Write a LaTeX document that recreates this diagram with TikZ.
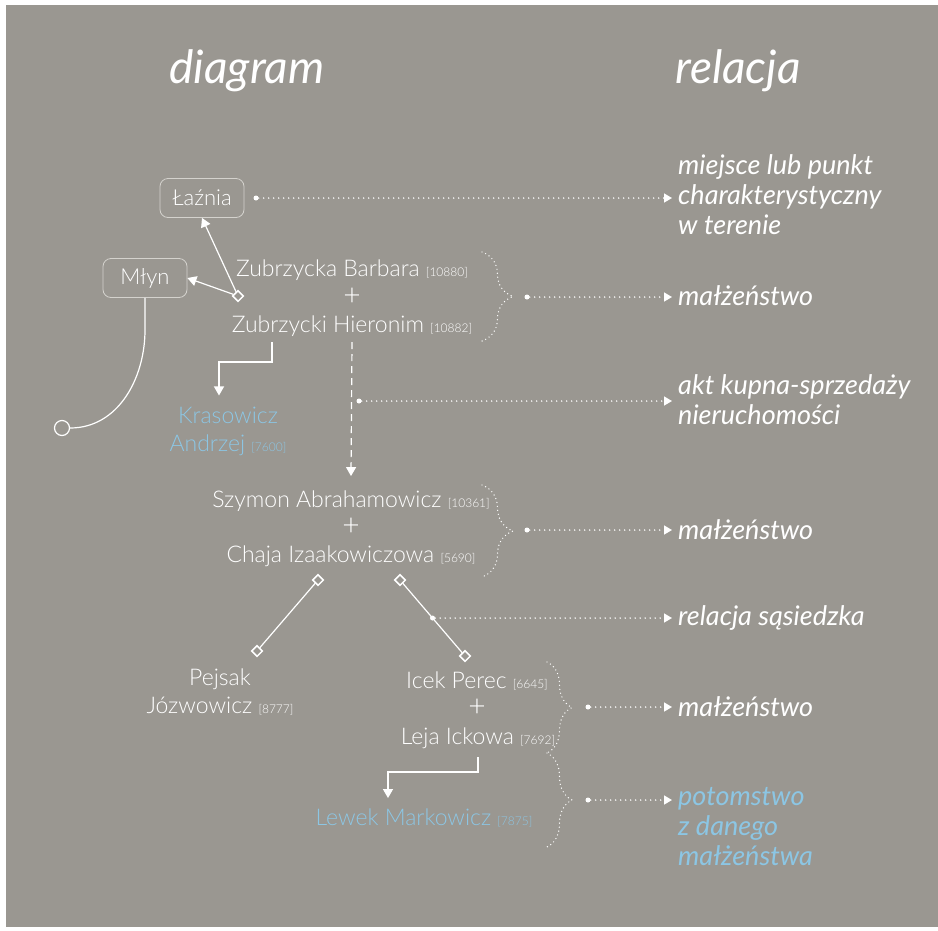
\documentclass[tikz,border=0pt]{standalone}
\usepackage{fontspec}
\setmainfont{Lato}
\IfFontExistsTF{Lato Light}{\newfontfamily\namefont{Lato Light}}{\newfontfamily\namefont{Lato}}
\usetikzlibrary{arrows.meta,decorations.pathreplacing,calc}

\definecolor{paper}{RGB}{154,151,145}
\definecolor{kidblue}{RGB}{140,198,228}
\definecolor{frame}{RGB}{212,210,205}
\newcommand{\idno}[1]{{\fontsize{12}{14}\selectfont[#1]}}

\tikzset{
  person/.style={text=white, font=\namefont\fontsize{23}{28}\selectfont, inner sep=0pt, align=center},
  kid/.style={person, text=kidblue},
  plus/.style={person, font=\namefont\fontsize{30}{30}\selectfont},
  place/.style={draw=frame, line width=0.8pt, rounded corners=8pt, minimum width=84pt, minimum height=39pt,
    text=white, font=\namefont\fontsize{22}{24}\selectfont},
  relation/.style={anchor=west, align=left, text=white, inner xsep=6pt, inner ysep=0pt,
    font=\itshape\fontsize{27}{30}\selectfont},
  heading/.style={text=white, font=\itshape\fontsize{46}{50}\selectfont, anchor=base},
  joint/.style={draw=white, fill=paper, line width=1.5pt, rotate=45, minimum size=7.5pt, inner sep=0pt},
  dot/.style={circle, fill=white, inner sep=0pt, minimum size=5pt},
  tie/.style={white, line width=1.2pt},
  descent/.style={tie, -{Triangle[width=10pt,length=9pt]}},
  hint/.style={white, line width=1.6pt, line cap=round, dash pattern=on 0pt off 5pt,
    -{Triangle[width=9pt,length=8pt]}},
  curly/.style={decorate, decoration={brace, amplitude=#1}, white, line width=1.4pt,
    line cap=round, dash pattern=on 0pt off 4pt},
}

\begin{document}
\begin{tikzpicture}[x=1pt,y=-1pt]
  \useasboundingbox (0,0) rectangle (938,930);
  \fill[paper] (6,5) rectangle (938,927);

  \node[heading] at (247,83) {diagram};
  \node[heading] at (738,83) {relacja};

  \node[place] (lazn) at (202,198) {Łaźnia};
  \node[place] (mlyn) at (145,278) {Młyn};
  \node[draw=white, circle, line width=1.2pt, minimum size=15pt, inner sep=0pt] (ring) at (62,428) {};

  \node[person, anchor=base] (barb) at (352,276) {Zubrzycka Barbara \idno{10880}};
  \node[plus] (plus1) at (352,297) {+};
  \node[person, anchor=base] (hier) at (352,332) {Zubrzycki Hieronim \idno{10882}};
  \node[kid] (kras) at (228,431) {Krasowicz\\Andrzej \idno{7600}};
  \node[person, anchor=base] (szym) at (351,507) {Szymon Abrahamowicz \idno{10361}};
  \node[plus] (plus2) at (351,527) {+};
  \node[person, anchor=base] (chaja) at (351,562) {Chaja Izaakowiczowa \idno{5690}};
  \node[person] (pejs) at (220,692) {Pejsak\\Józwowicz \idno{8777}};
  \node[person, anchor=base] (icek) at (477,688) {Icek Perec \idno{6645}};
  \node[plus] (plus3) at (477,708) {+};
  \node[person, anchor=base] (leja) at (478,744) {Leja Ickowa \idno{7692}};
  \node[kid, anchor=base] (lewek) at (424,825) {Lewek Markowicz \idno{7875}};

  \node[joint] (j0) at (238,296) {};
  \node[joint] (j1) at (318,580) {};
  \node[joint] (j2) at (400,580) {};
  \node[joint] (j3) at (257,651) {};
  \node[joint] (j4) at (465,656) {};

  \draw[descent] (j0) -- (lazn.south);
  \draw[descent] (j0) -- (mlyn.east);
  \draw[tie] (mlyn.south) -- ++(0,32) to[out=-90,in=0] (ring);
  \draw[descent] ($(hier.base)+(-80,10)$) -- ++(0,20) -| ([xshift=-9pt,yshift=11pt]kras.north);
  \draw[descent, dash pattern=on 7pt off 5pt] ($(hier.base)+(0,10)$) -- ([yshift=14pt]szym.north);
  \draw[descent] ($(leja.base)+(0,13)$) -- ++(0,15) -| ([xshift=-36pt,yshift=10pt]lewek.north);
  \draw[tie] (j1) -- (j3);
  \draw[tie] (j2) -- (j4);

  \draw[curly=31pt] (482,252) -- (482,341);
  \draw[curly=31pt] (482,485) -- (482,577);
  \draw[curly=25pt] (547,662) -- (547,753);
  \draw[curly=25pt] (547,753) -- (547,847);

  \node[dot] (d1) at (256,198) {};
  \node[dot] (d2) at (527,297) {};
  \node[dot] (d3) at (359,401) {};
  \node[dot] (d4) at (527,530) {};
  \path (j2) -- (j4) node[dot, midway] (d5) {};
  \node[dot] (d6) at (588,707) {};
  \node[dot] (d7) at (588,800) {};

  \node[relation] (r1) at (672,195) {miejsce lub punkt\\charakterystyczny\\w terenie};
  \node[relation] (r2) at (672,296) {małżeństwo};
  \node[relation] (r3) at (672,400) {akt kupna-sprzedaży\\nieruchomości};
  \node[relation] (r4) at (672,530) {małżeństwo};
  \node[relation] (r5) at (672,618) {relacja sąsiedzka};
  \node[relation] (r6) at (672,707) {małżeństwo};
  \node[relation, text=kidblue] (r7) at (672,827) {potomstwo\\z danego\\małżeństwa};

  \foreach \d/\r in {d1/r1,d2/r2,d3/r3,d4/r4,d5/r5,d6/r6,d7/r7}
    \draw[hint] (\d) -- (\r.west |- \d);
\end{tikzpicture}
\end{document}
